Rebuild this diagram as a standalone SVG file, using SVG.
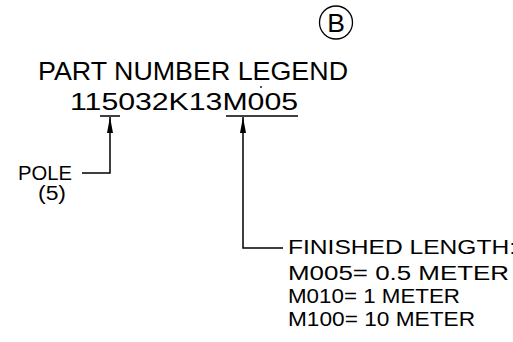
<svg xmlns="http://www.w3.org/2000/svg" width="513" height="342" viewBox="0 0 513 342">
<defs>
<style>
.t{font-family:"Liberation Sans",Arial,sans-serif;fill:#000}
.c{font-family:"Liberation Sans",Arial,sans-serif;fill:#000}
.ln{stroke:#000;stroke-width:1.5;fill:none}
</style>
<marker id="arr" viewBox="0 0 16 6" refX="16" refY="3" markerUnits="userSpaceOnUse" markerWidth="16" markerHeight="6" orient="auto-start-reverse">
<path d="M0,0 L16,3 L0,6 z" fill="#000"/>
</marker>
</defs>
<rect width="513" height="342" fill="#fff"/>
<g id="badge">
<circle cx="336" cy="22.5" r="16.5" fill="none" stroke="#000" stroke-width="1.3"/>
<text class="t" x="336" y="32" font-size="26.5" text-anchor="middle">B</text>
</g>
<g id="title">
<text class="t" x="38" y="80" font-size="26" textLength="310" lengthAdjust="spacingAndGlyphs">PART NUMBER LEGEND</text>
<circle cx="261" cy="87" r="0.9" fill="#000"/>
</g>
<g id="partnumber">
<text class="c" x="70" y="110" font-size="23" textLength="228" lengthAdjust="spacingAndGlyphs">115032K13M005</text>
<line class="ln" x1="100" y1="116" x2="120" y2="116"/>
<line class="ln" x1="226" y1="116" x2="298" y2="116"/>
</g>
<g id="pole">
<text class="c" x="18" y="180" font-size="20" textLength="54" lengthAdjust="spacingAndGlyphs">POLE</text>
<text class="c" x="38" y="200" font-size="20" textLength="28" lengthAdjust="spacingAndGlyphs">(5)</text>
</g>
<g id="finished">
<text class="c" x="288" y="254" font-size="20" textLength="228" lengthAdjust="spacingAndGlyphs">FINISHED LENGTH:</text>
<text class="c" x="288" y="280" font-size="20" textLength="221" lengthAdjust="spacingAndGlyphs">M005= 0.5 METER</text>
<text class="c" x="288" y="303" font-size="20" textLength="172" lengthAdjust="spacingAndGlyphs">M010= 1 METER</text>
<text class="c" x="288" y="326" font-size="20" textLength="187" lengthAdjust="spacingAndGlyphs">M100= 10 METER</text>
</g>
<g id="connectors">
<path class="ln" d="M110,117 V173 H82" marker-start="url(#arr)"/>
<path class="ln" d="M243,117 V248 H283" marker-start="url(#arr)"/>
</g>
</svg>
